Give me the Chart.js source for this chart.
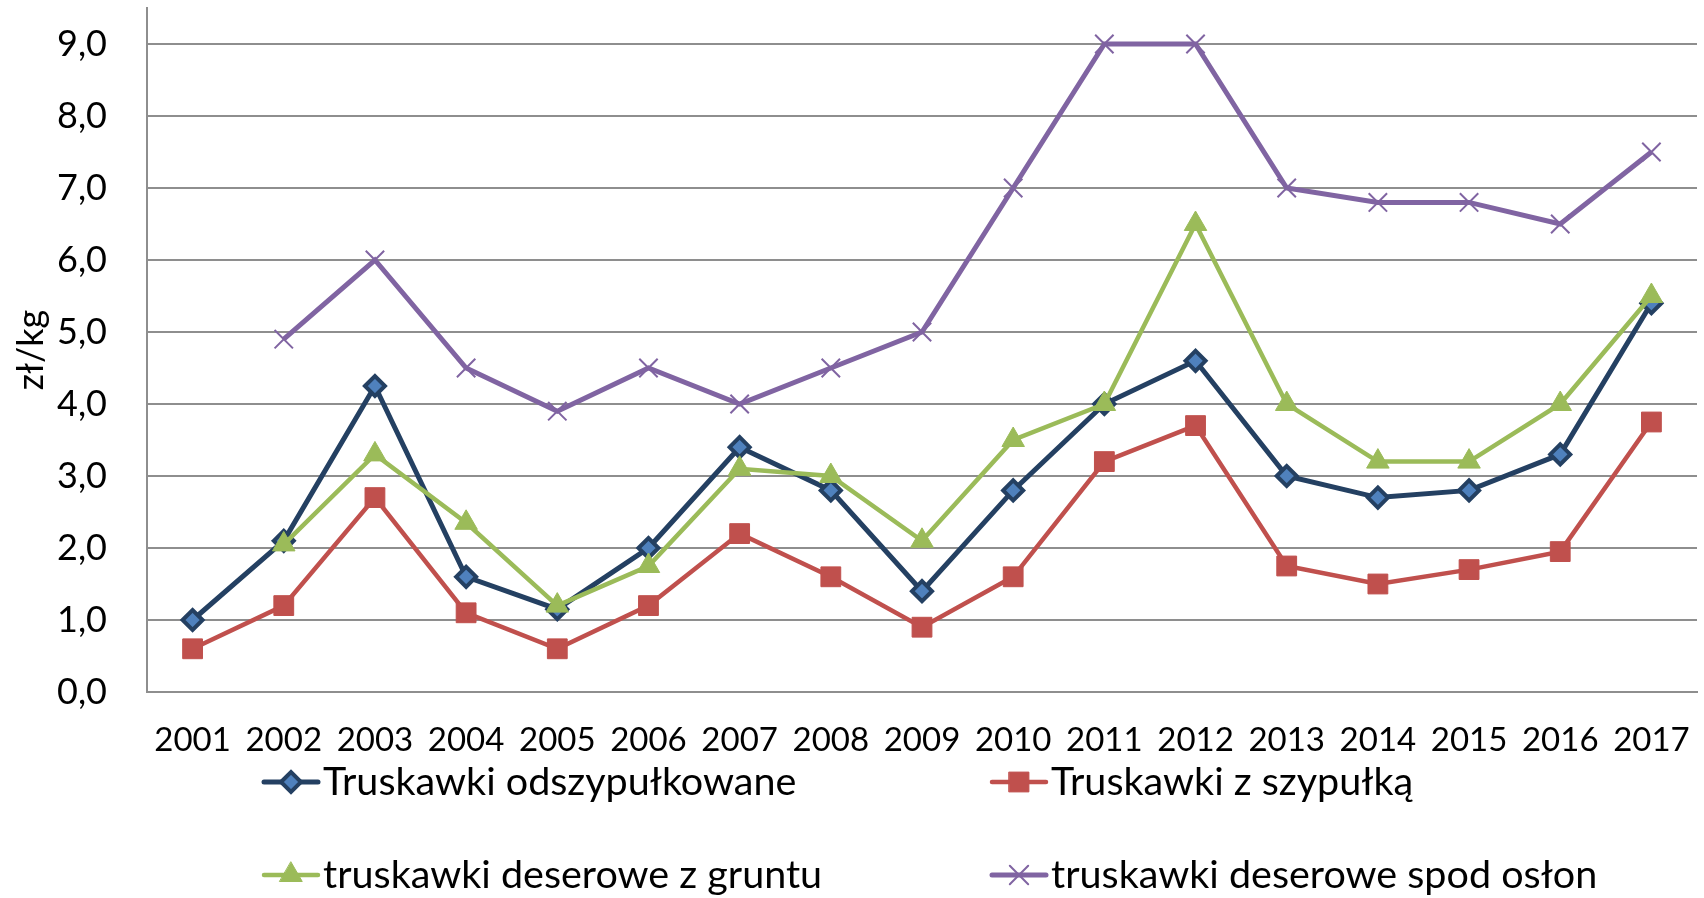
<!DOCTYPE html>
<html>
<head>
<meta charset="utf-8">
<script src="https://cdn.jsdelivr.net/npm/chart.js@4.4.1/dist/chart.umd.min.js"></script>
<style>
  html, body { margin: 0; padding: 0; background: #ffffff; }
  #wrap { width: 1704px; height: 898px; }
</style>
</head>
<body>
<div id="wrap"><canvas id="c" width="1704" height="898"></canvas></div>
<script>
const years = ['2001','2002','2003','2004','2005','2006','2007','2008','2009','2010','2011','2012','2013','2014','2015','2016','2017'];

const odszypulkowane = [1.0, 2.1, 4.25, 1.6, 1.15, 2.0, 3.4, 2.8, 1.4, 2.8, 4.0, 4.6, 3.0, 2.7, 2.8, 3.3, 5.4];
const zSzypulka      = [0.6, 1.2, 2.7, 1.1, 0.6, 1.2, 2.2, 1.6, 0.9, 1.6, 3.2, 3.7, 1.75, 1.5, 1.7, 1.95, 3.75];
const zGruntu        = [null, 2.05, 3.3, 2.35, 1.2, 1.75, 3.1, 3.0, 2.1, 3.5, 4.0, 6.5, 4.0, 3.2, 3.2, 4.0, 5.5];
const spodOslon      = [null, 4.9, 6.0, 4.5, 3.9, 4.5, 4.0, 4.5, 5.0, 7.0, 9.0, 9.0, 7.0, 6.8, 6.8, 6.5, 7.5];

const seriesNames = ['Truskawki odszypułkowane', 'Truskawki z szypułką', 'truskawki deserowe z gruntu', 'truskawki deserowe spod osłon'];
const yAxisTitle = 'zł/kg';

const FONT = 'Lato, "Open Sans", sans-serif';

const legendPlugin = {
  id: 'gridLegend',
  afterDraw(chart) {
    const ctx = chart.ctx;
    const cols = [264, 992];
    const rows = [782, 875];
    chart.data.datasets.forEach((ds, i) => {
      const x0 = cols[i % 2];
      const y = rows[Math.floor(i / 2)];
      const lineLen = 54;
      ctx.save();
      ctx.strokeStyle = ds.borderColor;
      ctx.lineWidth = ds.borderWidth;
      ctx.lineCap = 'round';
      ctx.beginPath();
      ctx.moveTo(x0, y);
      ctx.lineTo(x0 + lineLen, y);
      ctx.stroke();
      ctx.fillStyle = ds.pointBackgroundColor;
      ctx.strokeStyle = ds.pointBorderColor;
      ctx.lineWidth = ds.pointBorderWidth;
      Chart.helpers.drawPoint(ctx, {
        pointStyle: ds.pointStyle,
        radius: ds.pointRadius,
        borderWidth: ds.pointBorderWidth,
        rotation: 0
      }, x0 + lineLen / 2, y);
      ctx.fillStyle = '#000000';
      ctx.font = '39.5px ' + FONT;
      ctx.textBaseline = 'middle';
      ctx.textAlign = 'left';
      ctx.fillText(ds.label, x0 + lineLen + 5, y);
      ctx.restore();
    });
  }
};

const chart = new Chart(document.getElementById('c'), {
  type: 'line',
  data: {
    labels: years,
    datasets: [
      {
        label: seriesNames[0], data: odszypulkowane, order: 3,
        borderColor: '#244062', borderWidth: 5,
        pointStyle: 'rectRot', pointRadius: 10, pointHoverRadius: 10,
        pointBackgroundColor: '#4F81BD', pointBorderColor: '#244062', pointBorderWidth: 4
      },
      {
        label: seriesNames[1], data: zSzypulka, order: 2,
        borderColor: '#C0504D', borderWidth: 4.5,
        pointStyle: 'rect', pointRadius: 14, pointHoverRadius: 14,
        pointBackgroundColor: '#C0504D', pointBorderColor: '#C0504D', pointBorderWidth: 1
      },
      {
        label: seriesNames[2], data: zGruntu, order: 1,
        borderColor: '#9BBB59', borderWidth: 4.5,
        pointStyle: 'triangle', pointRadius: 13, pointHoverRadius: 13,
        pointBackgroundColor: '#9BBB59', pointBorderColor: '#9BBB59', pointBorderWidth: 1
      },
      {
        label: seriesNames[3], data: spodOslon, order: 0,
        borderColor: '#8064A2', borderWidth: 5,
        pointStyle: 'crossRot', pointRadius: 13, pointHoverRadius: 13,
        pointBackgroundColor: '#8064A2', pointBorderColor: '#8064A2', pointBorderWidth: 2
      }
    ]
  },
  options: {
    responsive: false,
    animation: false,
    devicePixelRatio: 1,
    layout: { autoPadding: false, padding: { top: 8, right: 7, left: 0, bottom: 0 } },
    elements: { line: { tension: 0 } },
    plugins: {
      legend: { display: false },
      tooltip: { enabled: false }
    },
    scales: {
      x: {
        offset: true,
        grid: { display: false, drawTicks: false },
        border: { display: true, color: '#8E8E8E', width: 2 },
        ticks: { color: '#000000', font: { family: FONT, size: 33 }, padding: 29, maxRotation: 0, autoSkip: false },
        afterFit(scale) { scale.height = 206; scale.paddingLeft = 0; scale.paddingRight = 0; }
      },
      y: {
        min: 0, max: 9.5,
        grid: { color: '#8E8E8E', lineWidth: 2, drawTicks: false },
        border: { display: true, color: '#8E8E8E', width: 2 },
        ticks: {
          stepSize: 1, includeBounds: false,
          color: '#000000', font: { family: FONT, size: 36 }, padding: 40,
          callback: (v) => v.toFixed(1).replace('.', ',')
        },
        title: { display: true, text: yAxisTitle, color: '#000000', font: { family: FONT, size: 36 }, padding: { top: 10, bottom: 0 } },
        afterFit(scale) { scale.width = 147; scale.paddingTop = 0; scale.paddingBottom = 0; }
      }
    }
  },
  plugins: [legendPlugin]
});
</script>
</body>
</html>
